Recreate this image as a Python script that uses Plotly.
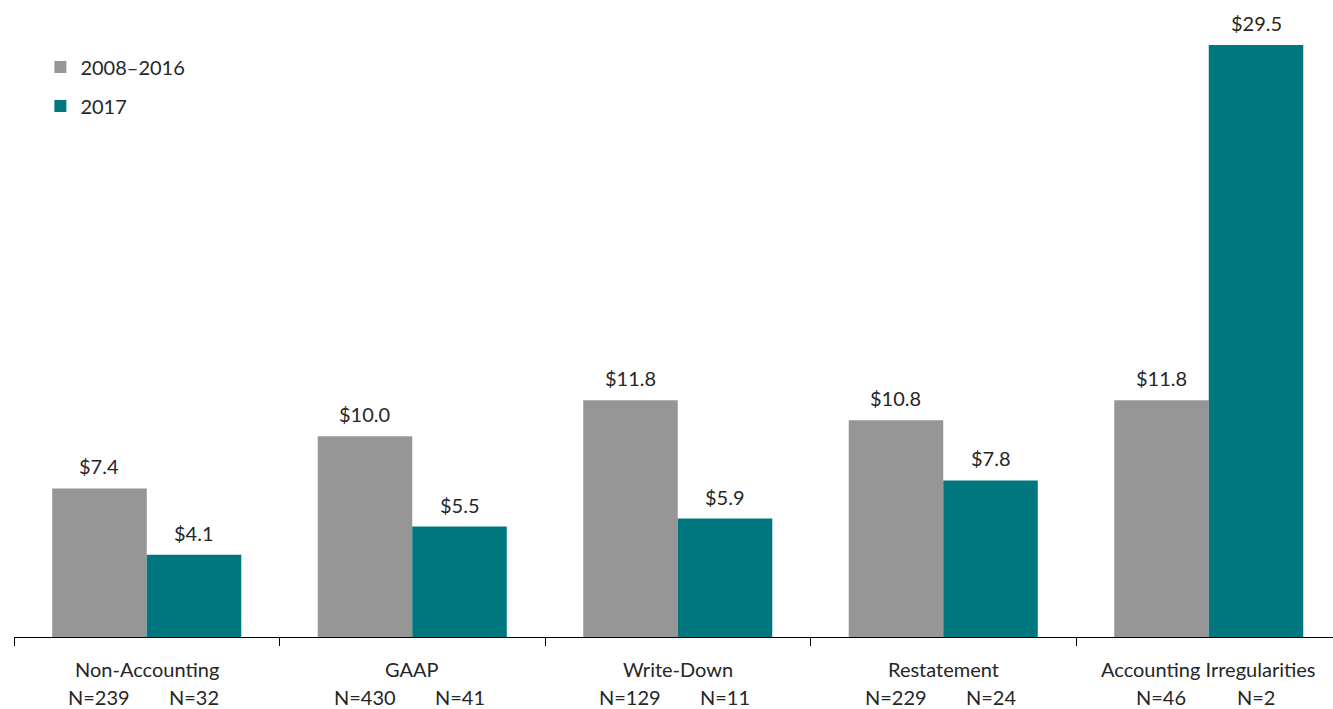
import plotly.graph_objects as go

categories = ["Non-Accounting", "GAAP", "Write-Down", "Restatement", "Accounting Irregularities"]
series_names = ["2008\u20132016", "2017"]
values_0816 = [7.4, 10.0, 11.8, 10.8, 11.8]
values_2017 = [4.1, 5.5, 5.9, 7.8, 29.5]
n_0816 = [239, 430, 129, 229, 46]
n_2017 = [32, 41, 11, 24, 2]

GRAY = "#969696"
TEAL = "#00777F"
TXT = "#262626"
FONT = "Lato"
FS = 20

xs = list(range(len(categories)))
fig = go.Figure()
fig.add_trace(go.Bar(x=xs, y=values_0816, name=series_names[0], marker_color=GRAY,
                     marker_line_width=0, legendgroup="a", offsetgroup="a"))
fig.add_trace(go.Bar(x=xs, y=values_2017, name=series_names[1], marker_color=TEAL,
                     marker_line_width=0, legendgroup="b", offsetgroup="b"))

bw = 0.356
annotations = []
for i, c in enumerate(categories):
    annotations.append(dict(x=i, y=0, xref="x", yref="y", text=c, showarrow=False,
                            yanchor="middle", yshift=-32, font=dict(size=FS, color=TXT, family=FONT)))
    for off, vals, ns in ((-bw / 2, values_0816, n_0816), (bw / 2, values_2017, n_2017)):
        annotations.append(dict(x=i + off, y=0, xref="x", yref="y", text=f"N={ns[i]}",
                                showarrow=False, yanchor="middle", yshift=-60,
                                font=dict(size=FS, color=TXT, family=FONT)))
        annotations.append(dict(x=i + off, y=vals[i], xref="x", yref="y", text=f"${vals[i]:.1f}",
                                showarrow=False, yanchor="middle", yshift=22,
                                font=dict(size=FS, color=TXT, family=FONT)))

fig.update_layout(
    width=1333, height=709,
    margin=dict(l=14, r=0, t=10, b=72),
    paper_bgcolor="white", plot_bgcolor="white",
    barmode="group", bargap=0.288, bargroupgap=0,
    font=dict(family=FONT, size=FS, color=TXT),
    showlegend=True,
    legend=dict(x=0.02, y=0.94, xanchor="left", yanchor="top", traceorder="grouped",
                tracegroupgap=10, bgcolor="rgba(0,0,0,0)", font=dict(size=FS, color=TXT, family=FONT)),
    annotations=annotations,
    xaxis=dict(range=[-0.5, -0.5 + 1319 / 265.5], tickvals=[-0.5, 0.5, 1.5, 2.5, 3.5, 4.5],
               ticktext=[""] * 6, ticks="outside", ticklen=8, tickcolor="#000", tickwidth=1,
               showline=True, linecolor="#000", linewidth=1, showgrid=False, zeroline=False),
    yaxis=dict(range=[0, 627 / 20.07], visible=False, showgrid=False, zeroline=False),
)

fig.write_html("out.html", config={"displayModeBar": False},
               post_script="document.body.style.margin='0';document.body.style.overflow='hidden';")
